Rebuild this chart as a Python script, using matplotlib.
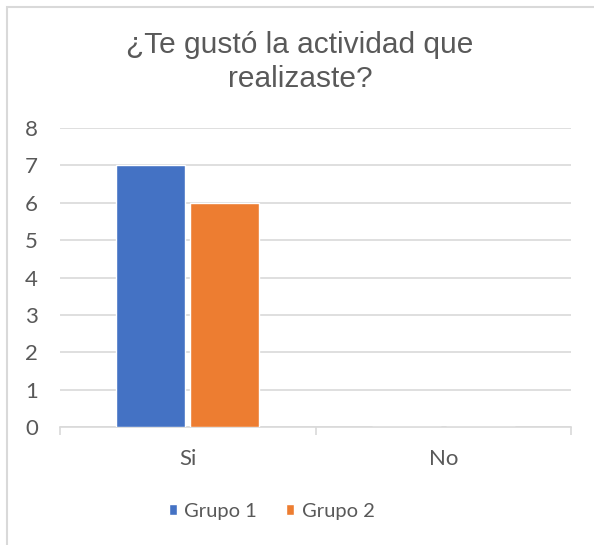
import matplotlib.pyplot as plt
from matplotlib.patches import Rectangle
import numpy as np

categories = ['Si', 'No']
grupo1 = [7, 0]
grupo2 = [6, 0]
series_names = ['Grupo 1', 'Grupo 2']
colors = ['#4472C4', '#ED7D31']
title = '¿Te gustó la actividad que\nrealizaste?'

text_color = '#595959'
grid_color = '#d9d9d9'
label_font = 'Lato'

fig = plt.figure(figsize=(5.94, 5.45), dpi=100)
# chart border (Excel style)
fig.patches.append(Rectangle((7 / 594, -0.1), 1.2, 1 - 7 / 545 + 0.1, transform=fig.transFigure,
                             fill=False, edgecolor=grid_color, linewidth=1.5))

ax = fig.add_axes([60 / 594, 1 - 427 / 545, 511 / 594, 299 / 545])
x = np.arange(len(categories))
w = 0.27
ax.bar(x - w / 2 - 0.01, grupo1, w, color=colors[0], edgecolor='white', linewidth=1, label=series_names[0], zorder=3)
ax.bar(x + w / 2 + 0.01, grupo2, w, color=colors[1], edgecolor='white', linewidth=1, label=series_names[1], zorder=3)

ax.set_xlim(-0.5, len(categories) - 0.5)
ax.set_ylim(0, 8)
ax.set_yticks(range(0, 9))
ax.yaxis.grid(True, color=grid_color, linewidth=1.2)
ax.set_axisbelow(True)
for s in ['top', 'right', 'left']:
    ax.spines[s].set_visible(False)
ax.spines['bottom'].set_color(grid_color)
ax.spines['bottom'].set_linewidth(1.2)

ax.set_xticks(x)
ax.set_xticklabels(categories)
ax.tick_params(axis='x', length=0, pad=16, labelsize=16, labelcolor=text_color)
ax.set_xticks(np.arange(-0.5, len(categories)), minor=True)
ax.tick_params(axis='x', which='minor', length=6, width=1.2, color=grid_color)
ax.tick_params(axis='y', length=0, pad=16, labelsize=16, labelcolor=text_color)
for lab in ax.get_xticklabels() + ax.get_yticklabels():
    lab.set_fontfamily(label_font)

fig.text(0.505, 1 - 62 / 545, title, ha='center', va='center', fontsize=21.5,
         color=text_color, family='Liberation Sans', linespacing=1.3)

leg = fig.legend(loc='center', bbox_to_anchor=(0.457, 1 - 511 / 545), ncol=2, frameon=False,
                 handlelength=0.42, handleheight=0.42, handletextpad=0.35, columnspacing=1.45,
                 prop={'family': label_font, 'size': 14.5})
for t in leg.get_texts():
    t.set_color(text_color)

fig.savefig('out.png', dpi=100)
